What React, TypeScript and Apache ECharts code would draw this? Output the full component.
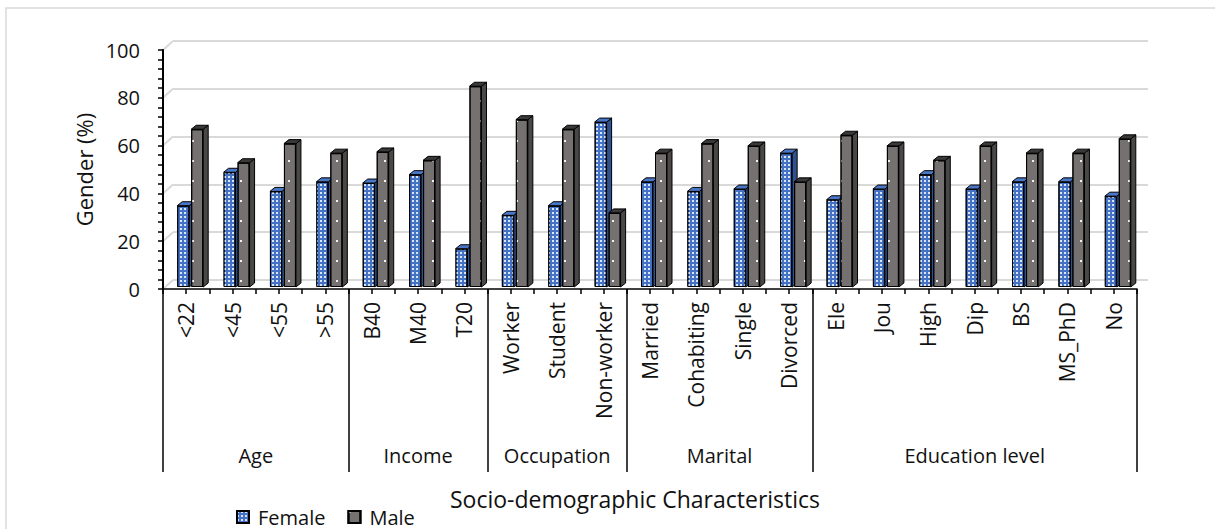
import React, { useEffect, useRef } from "react";
import * as echarts from "echarts";

const categories = ["<22", "<45", "<55", ">55", "B40", "M40", "T20", "Worker", "Student", "Non-worker", "Married", "Cohabiting", "Single", "Divorced", "Ele", "Jou", "High", "Dip", "BS", "MS_PhD", "No"];
const female = [34, 48, 40, 44, 43.5, 47, 16, 30, 34, 69, 44, 40, 41, 56, 36.5, 41, 47, 41, 44, 44, 38];
const male = [66, 52, 60, 56, 56.5, 53, 84, 70, 66, 31, 56, 60, 59, 44, 63.5, 59, 53, 59, 56, 56, 62];
const groupNames = ["Age", "Income", "Occupation", "Marital", "Education level"];
const groupSizes = [4, 3, 3, 4, 7];
const yMin = 0;
const yMax = 100;
const yInterval = 20;

const FONT = "'Open Sans', 'DejaVu Sans', sans-serif";
const TXT = "#111111";
const BW = 12; // bar width
const GAP = 2;
const DX = 5;
const DY = 4;

function sideRenderer(isFemale: boolean, sideColor: string, topColor: string) {
  return (params: any, api: any) => {
    const i = api.value(0);
    const v = api.value(1);
    const top = api.coord([i, v]);
    const base = api.coord([i, 0]);
    const cx = top[0];
    const x0 = isFemale ? cx - GAP / 2 - BW : cx + GAP / 2;
    const x1 = x0 + BW;
    const yT = top[1];
    const yB = base[1];
    return {
      type: "group",
      children: [
        {
          type: "polygon",
          shape: { points: [[x1, yT], [x1 + DX, yT - DY], [x1 + DX, yB - DY], [x1, yB]] },
          style: { fill: sideColor, stroke: "#000", lineWidth: 1 },
        },
        {
          type: "polygon",
          shape: { points: [[x0, yT], [x0 + DX, yT - DY], [x1 + DX, yT - DY], [x1, yT]] },
          style: { fill: topColor, stroke: "#000", lineWidth: 1 },
        },
      ],
    };
  };
}

export default function App() {
  const ref = useRef<HTMLDivElement>(null);
  useEffect(() => {
    document.body.style.margin = "0";
    const chart = echarts.init(ref.current!, null, { renderer: "svg" });

    const boundaries: number[] = [0];
    const centers: number[] = [];
    groupSizes.forEach((s) => {
      const start = boundaries[boundaries.length - 1];
      centers.push(start + s / 2);
      boundaries.push(start + s);
    });
    const total = categories.length;

    const femaleDecal = {
      symbol: "rect",
      symbolSize: 0.9,
      color: "rgba(255,255,255,0.9)",
      dashArrayX: [2, 2],
      dashArrayY: [2, 2],
    };
    const maleDecal = {
      symbol: "rect",
      symbolSize: 1,
      color: "rgba(255,255,255,0.9)",
      dashArrayX: [2, 10],
      dashArrayY: [2, 18],
    };

    const baseGraphics = [
      {
        type: "rect",
        shape: { x: 6, y: 8, width: 1400, height: 700 },
        style: { fill: "none", stroke: "#d9d9d9", lineWidth: 1.5 },
        silent: true,
        z: -10,
      },
      {
        type: "text",
        x: 635,
        y: 499,
        style: {
          text: "Socio-demographic Characteristics",
          fontSize: 23,
          fontFamily: FONT,
          fill: TXT,
          align: "center",
          verticalAlign: "middle",
        },
      },
    ];

    const gridCommon = { containLabel: false, outerBoundsMode: "none" };

    const option: any = {
      animation: false,
      textStyle: { fontFamily: FONT },
      grid: [
        { left: 163, right: 78, top: 50, bottom: 240, ...gridCommon },
        { left: 167, right: 74, top: 48, bottom: 242, ...gridCommon },
        { left: 173, right: 67, top: 41, bottom: 249, ...gridCommon },
      ],
      legend: {
        data: ["Female", "Male"],
        left: 236,
        top: 507,
        padding: 0,
        itemWidth: 12,
        itemHeight: 12,
        itemGap: 22,
        icon: "rect",
        textStyle: { fontSize: 20, color: TXT, fontFamily: FONT, padding: [0, 0, 0, 4] },
      },
      xAxis: [
        {
          type: "category",
          gridIndex: 0,
          position: "bottom",
          data: categories,
          axisLine: { show: true, lineStyle: { color: "#000", width: 1.5 } },
          axisTick: { show: true, interval: 0, length: 5, lineStyle: { color: "#000", width: 1.5 } },
          axisLabel: { interval: 0, rotate: 90, fontSize: 21, color: TXT, margin: 13 },
          splitLine: { show: false },
          z: 10,
        },
        {
          type: "category",
          gridIndex: 0,
          position: "bottom",
          offset: 0,
          data: categories,
          axisLine: { show: false },
          axisTick: { show: true, alignWithLabel: true, interval: 0, length: 5, lineStyle: { color: "#000", width: 1.5 } },
          axisLabel: { show: false },
          splitLine: { show: false },
          z: 10,
        },
        {
          type: "value",
          gridIndex: 0,
          position: "bottom",
          offset: 0,
          min: 0,
          max: total,
          axisLine: { show: false },
          splitLine: { show: false },
          axisTick: { show: true, customValues: boundaries, length: 183, lineStyle: { color: "#000", width: 1.5 } },
          axisLabel: {
            show: true,
            customValues: centers,
            margin: 156,
            fontSize: 20,
            color: TXT,
            formatter: (v: number) => {
              const k = centers.findIndex((c) => Math.abs(c - v) < 1e-6);
              return k >= 0 ? groupNames[k] : "";
            },
          },
          z: 10,
        },
        { type: "category", gridIndex: 1, data: categories, show: false },
        { type: "value", gridIndex: 2, min: 0, max: 1, show: false },
      ],
      yAxis: [
        {
          type: "value",
          gridIndex: 0,
          position: "left",
          min: yMin,
          max: yMax,
          interval: yInterval,
          name: "Gender (%)",
          nameLocation: "middle",
          nameGap: 68,
          nameTextStyle: { fontSize: 22, color: TXT, fontFamily: FONT },
          axisLine: { show: true, lineStyle: { color: "#000", width: 2 } },
          axisTick: { show: true, length: 5, lineStyle: { color: "#000", width: 1.5 } },
          minorTick: { show: true, splitNumber: 5, length: 5, lineStyle: { color: "#000", width: 1.5 } },
          axisLabel: { fontSize: 20, color: TXT, margin: 23 },
          splitLine: { show: false },
          z: 10,
        },
        { type: "value", gridIndex: 1, min: yMin, max: yMax, interval: yInterval, show: false },
        {
          type: "value",
          gridIndex: 2,
          min: yMin,
          max: yMax,
          interval: yInterval,
          axisLine: { show: false },
          axisTick: { show: false },
          axisLabel: { show: false },
          splitLine: { show: true, lineStyle: { color: "#d9d9d9", width: 2 } },
        },
      ],
      series: [
        {
          name: "FemaleSide",
          type: "custom",
          xAxisIndex: 3,
          yAxisIndex: 1,
          data: female.map((v, i) => [i, v]),
          renderItem: sideRenderer(true, "#2f528f", "#4a76c8"),
          clip: false,
          z: 2,
        },
        {
          name: "Female",
          type: "bar",
          xAxisIndex: 3,
          yAxisIndex: 1,
          data: female,
          barWidth: BW,
          barGap: "16.67%",
          itemStyle: { color: "#4472c4", borderColor: "#000", borderWidth: 1, decal: femaleDecal },
          z: 3,
        },
        {
          name: "MaleSide",
          type: "custom",
          xAxisIndex: 3,
          yAxisIndex: 1,
          data: male.map((v, i) => [i, v]),
          renderItem: sideRenderer(false, "#4a4747", "#3a3838"),
          clip: false,
          z: 4,
        },
        {
          name: "Male",
          type: "bar",
          xAxisIndex: 3,
          yAxisIndex: 1,
          data: male,
          barWidth: BW,
          barGap: "16.67%",
          itemStyle: { color: "#767171", borderColor: "#000", borderWidth: 1, decal: maleDecal },
          z: 5,
        },
      ],
      graphic: baseGraphics,
    };

    chart.setOption(option);

    const ticks: number[] = [];
    for (let v = yMin; v <= yMax; v += yInterval) ticks.push(v);
    const xFront = chart.convertToPixel({ xAxisIndex: 2 } as any, 0) as number;
    const xBack = chart.convertToPixel({ xAxisIndex: 4 } as any, 0) as number;
    const diagonals = ticks.map((v) => {
      const yF = chart.convertToPixel({ yAxisIndex: 0 } as any, v) as number;
      const yB = chart.convertToPixel({ yAxisIndex: 2 } as any, v) as number;
      return {
        type: "line",
        shape: { x1: xFront, y1: yF, x2: xBack, y2: yB },
        style: { stroke: "#d9d9d9", lineWidth: 2 },
        silent: true,
        z: -5,
      };
    });
    chart.setOption({ graphic: [...baseGraphics, ...diagonals] });

    return () => chart.dispose();
  }, []);
  return <div ref={ref} style={{ width: 1215, height: 529 }} />;
}
